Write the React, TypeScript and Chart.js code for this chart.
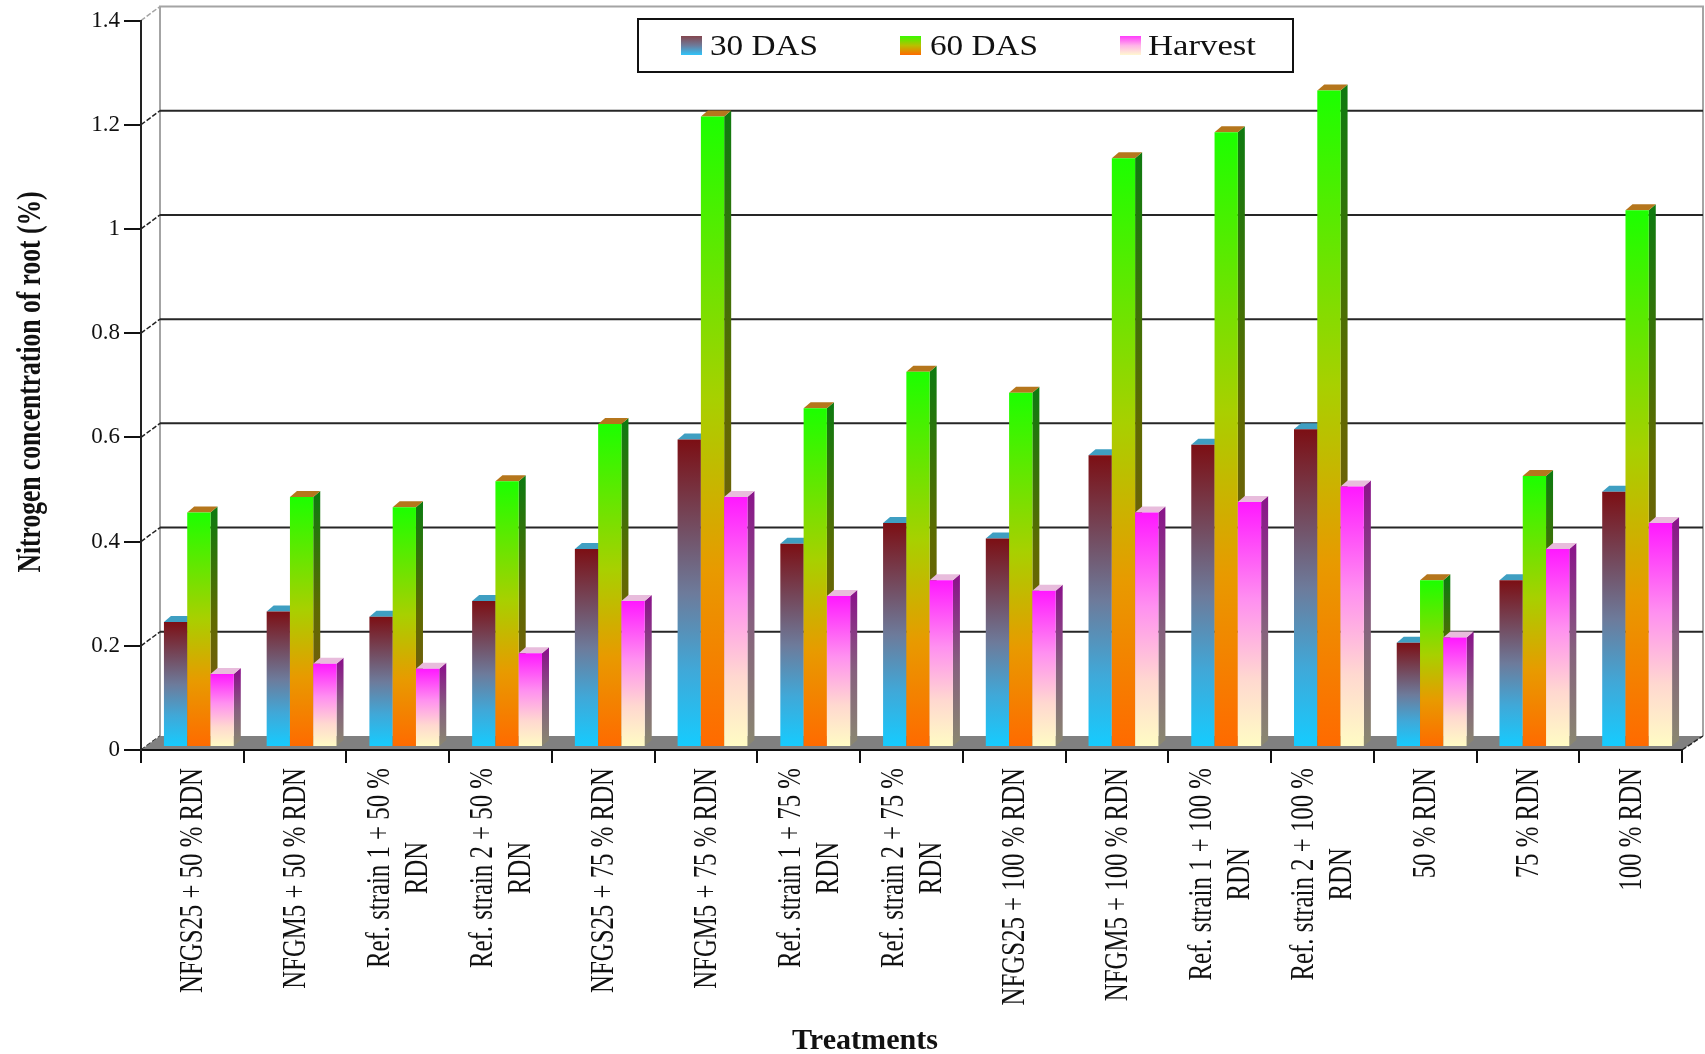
import React, { useEffect, useRef } from "react";
import { Chart, registerables } from "chart.js";

Chart.register(...registerables);

const categories: string[][] = [
  ["NFGS25 + 50 % RDN"],
  ["NFGM5 + 50 % RDN"],
  ["Ref. strain 1 + 50 %", "RDN"],
  ["Ref. strain 2 + 50 %", "RDN"],
  ["NFGS25 + 75 % RDN"],
  ["NFGM5 + 75 % RDN"],
  ["Ref. strain 1 + 75 %", "RDN"],
  ["Ref. strain 2 + 75 %", "RDN"],
  ["NFGS25 + 100 % RDN"],
  ["NFGM5 + 100 % RDN"],
  ["Ref. strain 1 + 100 %", "RDN"],
  ["Ref. strain 2 + 100 %", "RDN"],
  ["50 % RDN"],
  ["75 % RDN"],
  ["100 % RDN"],
];

const das30 = [0.24, 0.26, 0.25, 0.28, 0.38, 0.59, 0.39, 0.43, 0.4, 0.56, 0.58, 0.61, 0.2, 0.32, 0.49];
const das60 = [0.45, 0.48, 0.46, 0.51, 0.62, 1.21, 0.65, 0.72, 0.68, 1.13, 1.18, 1.26, 0.32, 0.52, 1.03];
const harvest = [0.14, 0.16, 0.15, 0.18, 0.28, 0.48, 0.29, 0.32, 0.3, 0.45, 0.47, 0.5, 0.21, 0.38, 0.43];

const seriesNames = ["30 DAS", "60 DAS", "Harvest"];
const yAxisTitle = "Nitrogen concentration of root (%)";
const xAxisTitle = "Treatments";

const SERIF = '"Liberation Serif"';
const INK = "#111111";

// Pseudo-3D geometry: the back wall sits up and to the right of the axes,
// and the bars stand on the floor a little in front of the wall.
const WALL_DX = 19;
const WALL_DY = -14;
const BAR_DX = 6.5;
const BAR_DY = -3;
const SIDE_DX = 7;
const SIDE_DY = -6;

type Stop = [number, string];
interface Skin {
  front: Stop[];
  side: Stop[];
  top: string;
  swatch: Stop[];
}

const skins: Skin[] = [
  {
    front: [[0, "#7c0f14"], [0.5, "#6d7b9b"], [0.75, "#40a8d8"], [1, "#15ccff"]],
    side: [[0, "#3d1010"], [1, "#1c6a88"]],
    top: "#3f9fc2",
    swatch: [[0, "#84464e"], [0.5, "#6d7b9b"], [1, "#2fc4fa"]],
  },
  {
    front: [[0, "#1cff00"], [0.45, "#a8d000"], [0.72, "#e89a00"], [1, "#ff6a00"]],
    side: [[0, "#107a10"], [0.45, "#5f6a00"], [1, "#86501a"]],
    top: "#b5761c",
    swatch: [[0, "#38fb00"], [0.5, "#b8c000"], [1, "#ff6a00"]],
  },
  {
    front: [[0, "#ff18ff"], [0.4, "#ff90f0"], [0.72, "#ffd8d0"], [1, "#fffcc4"]],
    side: [[0, "#8a168a"], [0.5, "#86607e"], [1, "#8a8870"]],
    top: "#e8bcdc",
    swatch: [[0, "#ff3cfc"], [0.5, "#ffb4e8"], [1, "#fff8d0"]],
  },
];

function barGradient(chart: any, value: number, stops: Stop[]) {
  const yScale = chart.scales.y;
  const top = yScale ? yScale.getPixelForValue(value) : NaN;
  const bottom = yScale ? yScale.getPixelForValue(0) : NaN;
  // The scale has no pixel range until the first layout has run.
  if (!Number.isFinite(top) || !Number.isFinite(bottom)) return stops[0][1];
  const g = chart.ctx.createLinearGradient(0, top, 0, bottom);
  stops.forEach(([at, color]) => g.addColorStop(at, color));
  return g;
}

// Filled text squeezed or stretched along its baseline.
function drawText(
  ctx: CanvasRenderingContext2D,
  text: string,
  x: number,
  y: number,
  font: string,
  stretch: number,
  rotated = false,
  align: CanvasTextAlign = "left",
) {
  ctx.save();
  ctx.font = font;
  ctx.fillStyle = INK;
  ctx.textAlign = align;
  ctx.textBaseline = "alphabetic";
  ctx.translate(x, y);
  if (rotated) ctx.rotate(-Math.PI / 2);
  ctx.scale(stretch, 1);
  ctx.fillText(text, 0, 0);
  ctx.restore();
}

function textWidth(ctx: CanvasRenderingContext2D, text: string, font: string) {
  ctx.save();
  ctx.font = font;
  const w = ctx.measureText(text).width;
  ctx.restore();
  return w;
}

const scenePlugin = {
  id: "scene3d",

  // Back wall, floor and the gridlines that run along the wall.
  beforeDraw(chart: any) {
    const { ctx, chartArea: area, scales } = chart;
    const { left, right, top, bottom } = area;
    const wallLeft = left + WALL_DX;
    const wallRight = right + WALL_DX + 2;
    const wallTop = top + WALL_DY;
    const wallBottom = bottom + WALL_DY;

    ctx.save();
    ctx.fillStyle = "#ffffff";
    ctx.fillRect(0, 0, chart.width, chart.height);

    ctx.strokeStyle = "#a4a4a4";
    ctx.lineWidth = 2;
    ctx.beginPath();
    ctx.moveTo(wallLeft, wallBottom);
    ctx.lineTo(wallLeft, wallTop);
    ctx.lineTo(wallRight, wallTop);
    ctx.lineTo(wallRight, wallBottom);
    ctx.stroke();

    scales.y.ticks.forEach((tick: any) => {
      const y = scales.y.getPixelForValue(tick.value);
      ctx.setLineDash([5, 2]);
      ctx.lineWidth = 1.5;
      ctx.strokeStyle = tick.value >= 1.39 ? "#a4a4a4" : "#222222";
      ctx.beginPath();
      ctx.moveTo(left, y);
      ctx.lineTo(wallLeft, y + WALL_DY);
      ctx.stroke();
      ctx.setLineDash([]);
      if (tick.value > 0.01 && tick.value < 1.39) {
        ctx.lineWidth = 2;
        ctx.strokeStyle = "#262626";
        ctx.beginPath();
        ctx.moveTo(wallLeft, y + WALL_DY);
        ctx.lineTo(wallRight, y + WALL_DY);
        ctx.stroke();
      }
    });

    ctx.fillStyle = "#808080";
    ctx.beginPath();
    ctx.moveTo(left, bottom);
    ctx.lineTo(wallLeft, wallBottom);
    ctx.lineTo(wallRight, wallBottom);
    ctx.lineTo(right, bottom);
    ctx.closePath();
    ctx.fill();

    ctx.setLineDash([5, 2]);
    ctx.lineWidth = 1.5;
    ctx.strokeStyle = "#222222";
    ctx.beginPath();
    ctx.moveTo(right, bottom);
    ctx.lineTo(wallRight, wallBottom);
    ctx.stroke();
    ctx.restore();
  },

  // Series are painted left to right so each bar hides its neighbour's side
  // face; the library's default would paint them the other way round. Side and
  // top faces go down first, then the controller draws the front faces.
  beforeDatasetsDraw(chart: any) {
    const { ctx } = chart;
    ctx.save();
    ctx.translate(BAR_DX, BAR_DY);
    chart.data.datasets.forEach((dataset: any, index: number) => {
      const meta = chart.getDatasetMeta(index);
      const skin = skins[index];
      meta.data.forEach((bar: any, i: number) => {
        const { x, y, base, width } = bar.getProps(["x", "y", "base", "width"], true);
        const xr = x + width / 2;
        const xl = x - width / 2;
        ctx.fillStyle = barGradient(chart, dataset.data[i], skin.side);
        ctx.beginPath();
        ctx.moveTo(xr, y);
        ctx.lineTo(xr + SIDE_DX, y + SIDE_DY);
        ctx.lineTo(xr + SIDE_DX, base + SIDE_DY);
        ctx.lineTo(xr, base);
        ctx.closePath();
        ctx.fill();
        ctx.fillStyle = skin.top;
        ctx.beginPath();
        ctx.moveTo(xl, y);
        ctx.lineTo(xl + SIDE_DX, y + SIDE_DY);
        ctx.lineTo(xr + SIDE_DX, y + SIDE_DY);
        ctx.lineTo(xr, y);
        ctx.closePath();
        ctx.fill();
      });
      meta.controller.draw();
    });
    ctx.restore();
    return false;
  },

  // Category labels, axis titles and the boxed legend.
  afterDraw(chart: any) {
    const { ctx, scales } = chart;
    const labelFont = `34px ${SERIF}`;
    const labelStretch = 0.73;
    const labelTop = 768;
    const lineGap = 38;
    const capHalf = 11;

    categories.forEach((lines, i) => {
      const cx = scales.x.getPixelForTick(i) - 1;
      const firstLen = textWidth(ctx, lines[0], labelFont) * labelStretch;
      const midY = labelTop + firstLen / 2;
      lines.forEach((line, n) => {
        const lineX = cx + (n - (lines.length - 1) / 2) * lineGap + capHalf;
        drawText(ctx, line, lineX, midY, labelFont, labelStretch, true, "center");
      });
    });

    const yFont = `bold 33px ${SERIF}`;
    drawText(ctx, yAxisTitle, 40, 382, yFont, 381 / textWidth(ctx, yAxisTitle, yFont), true, "center");

    const xFont = `bold 29px ${SERIF}`;
    drawText(ctx, xAxisTitle, 865, 1049, xFont, 146 / textWidth(ctx, xAxisTitle, xFont), false, "center");

    ctx.save();
    ctx.strokeStyle = "#111111";
    ctx.lineWidth = 2;
    ctx.strokeRect(638, 19, 655, 53);
    ctx.restore();

    const swatchX = [681, 900, 1120];
    const textX = [710, 930, 1148];
    const legendFont = `30px ${SERIF}`;
    seriesNames.forEach((name, i) => {
      const g = ctx.createLinearGradient(0, 36, 0, 55);
      skins[i].swatch.forEach(([at, color]) => g.addColorStop(at, color));
      ctx.fillStyle = g;
      ctx.fillRect(swatchX[i], 36, 21, 19);
      drawText(ctx, name, textX[i], 55, legendFont, 108 / textWidth(ctx, name, legendFont));
    });
  },
};

export default function App() {
  const canvasRef = useRef<HTMLCanvasElement>(null);

  useEffect(() => {
    const chart = new Chart(canvasRef.current as HTMLCanvasElement, {
      type: "bar",
      data: {
        labels: categories.map((lines) => lines.join(" ")),
        datasets: [das30, das60, harvest].map((values, i) => ({
          label: seriesNames[i],
          data: values,
          clip: false as any,
          backgroundColor: (c: any) =>
            c.type === "data" ? barGradient(c.chart, values[c.dataIndex], skins[i].front) : "#888888",
          borderWidth: 0,
          categoryPercentage: 0.68,
          barPercentage: 1,
        })),
      },
      options: {
        responsive: false,
        animation: false,
        layout: { padding: { left: 0, top: 20.5, right: 23, bottom: 0 } },
        plugins: { legend: { display: false }, tooltip: { enabled: false } },
        scales: {
          x: {
            afterFit: (scale: any) => {
              scale.height = 304;
            },
            border: { color: "#111111", width: 2 },
            grid: { drawOnChartArea: false, drawTicks: true, tickLength: 13, color: "#111111", lineWidth: 2 },
            ticks: { display: false, autoSkip: false },
          },
          y: {
            min: 0,
            max: 1.4,
            afterFit: (scale: any) => {
              scale.width = 141;
            },
            border: { color: "#222222", width: 2 },
            grid: { drawOnChartArea: false, drawTicks: true, tickLength: 17, color: "#111111", lineWidth: 2 },
            ticks: {
              stepSize: 0.2,
              padding: 4,
              color: INK,
              font: { family: SERIF, size: 23 },
              callback: (v: any) => String(Number(Number(v).toFixed(1))),
            },
          },
        },
      },
      plugins: [scenePlugin],
    } as any);
    return () => chart.destroy();
  }, []);

  return (
    <div style={{ position: "absolute", left: 0, top: 0, width: 1705, height: 1054, background: "#fff" }}>
      <canvas ref={canvasRef} width={1705} height={1054} style={{ display: "block" }} />
    </div>
  );
}
